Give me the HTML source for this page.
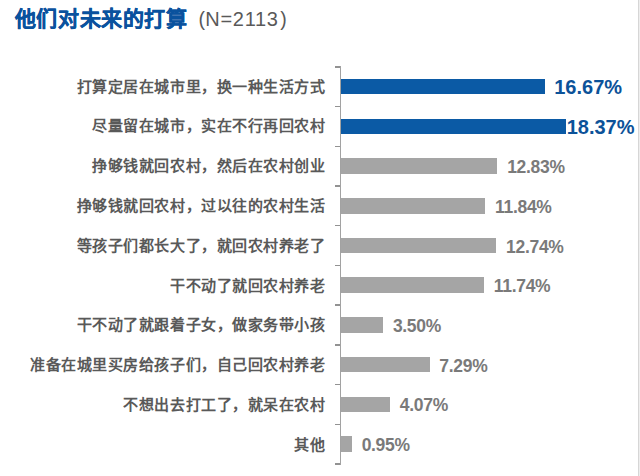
<!DOCTYPE html>
<html lang="zh-CN"><head><meta charset="utf-8">
<style>
html,body{margin:0;padding:0;background:#fff;}
body{width:640px;height:476px;position:relative;overflow:hidden;font-family:"Liberation Sans",sans-serif;}
.title{position:absolute;left:14.8px;top:5.45px;font-size:21px;letter-spacing:0.6px;font-weight:900;color:#0a529e;-webkit-text-stroke:0.35px #0a529e;white-space:nowrap;line-height:28px;}
.p{position:absolute;color:#595959;font-weight:normal;white-space:nowrap;}
.axis{position:absolute;left:339.8px;top:65.95px;width:1.3px;height:398.60px;background:#a2a2a2;}
.tick{position:absolute;left:335.3px;width:5px;height:1.4px;background:#929292;}
.bar{position:absolute;left:339.5px;height:15.6px;}
.lab{position:absolute;right:314.5px;font-size:15px;letter-spacing:0.55px;font-weight:bold;color:#595959;white-space:nowrap;line-height:20px;}
.val{position:absolute;font-size:17.5px;letter-spacing:-0.3px;font-weight:bold;color:#7a7a7a;white-space:nowrap;line-height:24px;}
.val.blue{color:#0c5299;font-size:20px;letter-spacing:0;}
</style></head><body>
<div class="title">他们对未来的打算</div>
<div class="p" style="left:198.5px;top:4.6px;font-size:19.5px;line-height:28px">(</div>
<div class="p" style="left:205.3px;top:5.3px;font-size:20px;letter-spacing:0.7px;line-height:28px">N=2113</div>
<div class="p" style="left:280.3px;top:4.6px;font-size:19.5px;line-height:28px">)</div>
<div style="position:absolute;left:638px;top:0;width:1px;height:476px;background:#d6d6d6"></div><div style="position:absolute;left:639px;top:0;width:1px;height:476px;background:#eeeeee"></div>
<div class="bar" style="top:78.90px;width:205.01px;background:#0b5aa5"></div>
<div class="lab" style="top:76.56px">打算定居在城市里，换一种生活方式</div>
<div class="val blue" style="top:74.56px;left:554.21px">16.67%</div>
<div class="bar" style="top:118.61px;width:226.43px;background:#0b5aa5"></div>
<div class="lab" style="top:116.36px">尽量留在城市，实在不行再回农村</div>
<div class="val blue" style="top:115.06px;left:566.70px">18.37%</div>
<div class="bar" style="top:158.32px;width:157.97px;background:#a5a5a5"></div>
<div class="lab" style="top:156.17px">挣够钱就回农村，然后在农村创业</div>
<div class="val" style="top:155.17px;left:507.17px">12.83%</div>
<div class="bar" style="top:198.03px;width:145.84px;background:#a5a5a5"></div>
<div class="lab" style="top:195.98px">挣够钱就回农村，过以往的农村生活</div>
<div class="val" style="top:194.88px;left:495.04px">11.84%</div>
<div class="bar" style="top:237.74px;width:156.87px;background:#a5a5a5"></div>
<div class="lab" style="top:235.80px">等孩子们都长大了，就回农村养老了</div>
<div class="val" style="top:234.59px;left:506.06px">12.74%</div>
<div class="bar" style="top:277.45px;width:144.62px;background:#a5a5a5"></div>
<div class="lab" style="top:275.61px">干不动了就回农村养老</div>
<div class="val" style="top:274.31px;left:493.81px">11.74%</div>
<div class="bar" style="top:317.16px;width:43.68px;background:#a5a5a5"></div>
<div class="lab" style="top:315.42px">干不动了就跟着子女，做家务带小孩</div>
<div class="val" style="top:314.01px;left:392.88px">3.50%</div>
<div class="bar" style="top:356.87px;width:90.10px;background:#a5a5a5"></div>
<div class="lab" style="top:355.23px">准备在城里买房给孩子们，自己回农村养老</div>
<div class="val" style="top:353.73px;left:439.30px">7.29%</div>
<div class="bar" style="top:396.58px;width:50.66px;background:#a5a5a5"></div>
<div class="lab" style="top:395.04px">不想出去打工了，就呆在农村</div>
<div class="val" style="top:393.44px;left:399.86px">4.07%</div>
<div class="bar" style="top:436.29px;width:12.44px;background:#a5a5a5"></div>
<div class="lab" style="top:434.84px">其他</div>
<div class="val" style="top:433.14px;left:361.64px">0.95%</div>
<div class="tick" style="top:66.20px"></div>
<div class="tick" style="top:105.91px"></div>
<div class="tick" style="top:145.62px"></div>
<div class="tick" style="top:185.33px"></div>
<div class="tick" style="top:225.04px"></div>
<div class="tick" style="top:264.75px"></div>
<div class="tick" style="top:304.46px"></div>
<div class="tick" style="top:344.17px"></div>
<div class="tick" style="top:383.88px"></div>
<div class="tick" style="top:423.59px"></div>
<div class="tick" style="top:463.30px"></div>
<div class="axis"></div>
</body></html>
